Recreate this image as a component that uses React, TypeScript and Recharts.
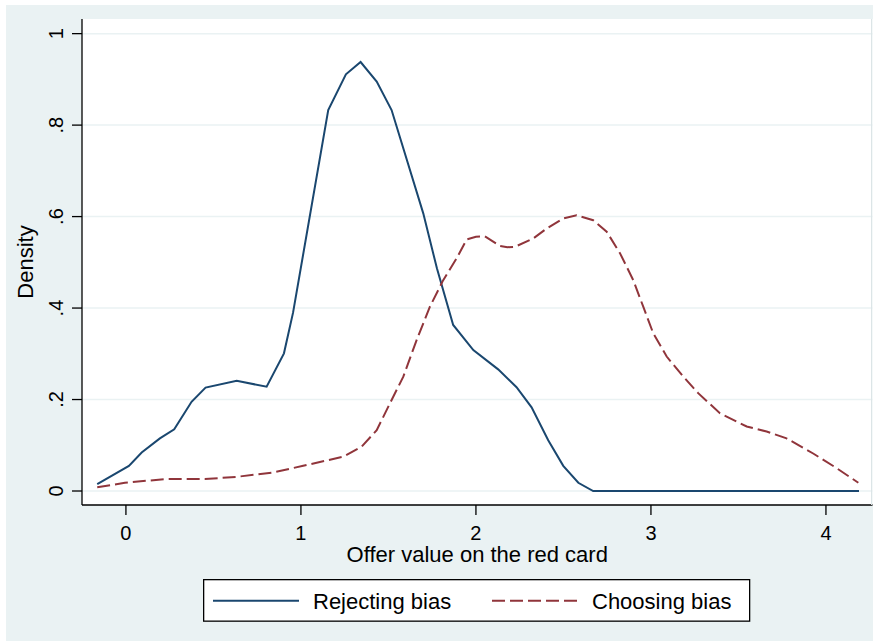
import React from 'react';
import { LineChart, Line, XAxis, YAxis, CartesianGrid, Label } from 'recharts';

const rejectX = [-0.164, 0.017, 0.09, 0.194, 0.276, 0.375, 0.455, 0.633, 0.804, 0.903, 0.955, 1.156, 1.257, 1.341, 1.433, 1.518, 1.699, 1.777, 1.87, 1.985, 2.127, 2.232, 2.318, 2.413, 2.499, 2.585, 2.67, 4.189];
const rejectY = [0.015, 0.055, 0.084, 0.115, 0.135, 0.195, 0.226, 0.241, 0.228, 0.301, 0.39, 0.833, 0.911, 0.938, 0.895, 0.833, 0.607, 0.487, 0.363, 0.308, 0.266, 0.227, 0.183, 0.111, 0.055, 0.018, 0, 0];

const chooseX = [-0.164, -0.006, 0.223, 0.451, 0.633, 0.833, 1.013, 1.242, 1.347, 1.433, 1.509, 1.585, 1.661, 1.737, 1.813, 1.89, 1.947, 2.0, 2.051, 2.137, 2.18, 2.223, 2.327, 2.404, 2.499, 2.575, 2.67, 2.747, 2.823, 2.899, 2.956, 3.013, 3.09, 3.185, 3.27, 3.394, 3.547, 3.661, 3.775, 3.927, 4.061, 4.185];
const chooseY = [0.008, 0.018, 0.026, 0.026, 0.031, 0.04, 0.055, 0.075, 0.097, 0.133, 0.192, 0.25, 0.33, 0.403, 0.461, 0.509, 0.55, 0.556, 0.557, 0.536, 0.533, 0.534, 0.552, 0.574, 0.596, 0.603, 0.592, 0.567, 0.52, 0.461, 0.403, 0.345, 0.294, 0.25, 0.214, 0.17, 0.141, 0.13, 0.115, 0.082, 0.05, 0.018];

const xTicks = [0, 1, 2, 3, 4];
const yTicks = [0, 0.2, 0.4, 0.6, 0.8, 1];
const yTickLabels = ['0', '.2', '.4', '.6', '.8', '1'];
const xTitle = 'Offer value on the red card';
const yTitle = 'Density';
const seriesNames = ['Rejecting bias', 'Choosing bias'];
const seriesColors = ['#1A476F', '#90353B'];
const seriesDash = [undefined, '13 5'];

const rejectData = rejectX.map((x, i) => ({ x, y: rejectY[i] }));
const chooseData = chooseX.map((x, i) => ({ x, y: chooseY[i] }));
const seriesData = [rejectData, chooseData];

const FONT = '"Liberation Sans", Arial, sans-serif';

const YTick = (p: any) => {
  const idx = yTicks.indexOf(p.payload.value);
  const bx = p.x - 7;
  return (
    <text x={bx} y={p.y} transform={`rotate(-90 ${bx} ${p.y})`} textAnchor="middle" fontSize={20} fontFamily={FONT} fill="#000">
      {idx >= 0 ? yTickLabels[idx] : String(p.payload.value)}
    </text>
  );
};

const XTick = (p: any) => (
  <text x={p.x} y={p.y + 22.5} textAnchor="middle" fontSize={20} fontFamily={FONT} fill="#000">
    {String(p.payload.value)}
  </text>
);

export default function App() {
  return (
    <div style={{ position: 'absolute', left: 0, top: 0, width: 873, height: 641, background: '#fff', overflow: 'hidden' }}>
      <div style={{ position: 'absolute', left: 6, top: 5, width: 867, height: 636, background: '#EAF2F3' }} />
      <div style={{ position: 'absolute', left: 0, top: 0 }}>
        <LineChart width={873} height={641} margin={{ top: 19, right: 0.5, left: 32, bottom: 86 }}>
          <CartesianGrid vertical={false} horizontal={true} stroke="#EAF2F3" strokeWidth={1.5} fill="#ffffff" horizontalValues={yTicks} />
          <XAxis
            dataKey="x"
            type="number"
            domain={[-0.251, 4.266]}
            ticks={xTicks}
            allowDataOverflow
            height={50}
            tickSize={10}
            tick={<XTick />}
            axisLine={{ stroke: '#000', strokeWidth: 1.3 }}
            tickLine={{ stroke: '#000', strokeWidth: 1.3 }}
          >
            <Label
              content={(props: any) => {
                const vb = props.viewBox;
                return (
                  <text x={vb.x + vb.width / 2} y={vb.y + 56.7} textAnchor="middle" fontSize={22} fontFamily={FONT} fill="#000">
                    {xTitle}
                  </text>
                );
              }}
            />
          </XAxis>
          <YAxis
            type="number"
            domain={[-0.0306, 1.032]}
            ticks={yTicks}
            allowDataOverflow
            width={50}
            tickSize={10}
            tick={<YTick />}
            axisLine={{ stroke: '#000', strokeWidth: 1.3 }}
            tickLine={{ stroke: '#000', strokeWidth: 1.3 }}
          >
            <Label
              content={(props: any) => {
                const vb = props.viewBox;
                const cy = vb.y + vb.height / 2;
                const bx = 33;
                return (
                  <text x={bx} y={cy} transform={`rotate(-90 ${bx} ${cy})`} textAnchor="middle" fontSize={22} fontFamily={FONT} fill="#000">
                    {yTitle}
                  </text>
                );
              }}
            />
          </YAxis>
          {seriesNames.map((name, i) => (
            <Line
              key={name}
              data={seriesData[i]}
              dataKey="y"
              name={name}
              type="linear"
              stroke={seriesColors[i]}
              strokeWidth={2}
              strokeDasharray={seriesDash[i]}
              dot={false}
              activeDot={false}
              isAnimationActive={false}
            />
          ))}
        </LineChart>
      </div>
      <div style={{ position: 'absolute', left: 871, top: 19, width: 1, height: 486, background: '#DCE5E7' }} />
      <svg style={{ position: 'absolute', left: 203, top: 579 }} width={548} height={43}>
        <rect x={0.65} y={0.65} width={546} height={41.5} fill="#fff" stroke="#000" strokeWidth={1.3} />
        {seriesNames.map((name, i) => {
          const ox = i === 0 ? 10 : 289;
          return (
            <g key={name}>
              <line x1={ox} x2={ox + 86} y1={21.7} y2={21.7} stroke={seriesColors[i]} strokeWidth={2} strokeDasharray={seriesDash[i]} />
              <text x={ox + 100} y={30.3} fontSize={22} fontFamily={FONT} fill="#000">{name}</text>
            </g>
          );
        })}
      </svg>
    </div>
  );
}
